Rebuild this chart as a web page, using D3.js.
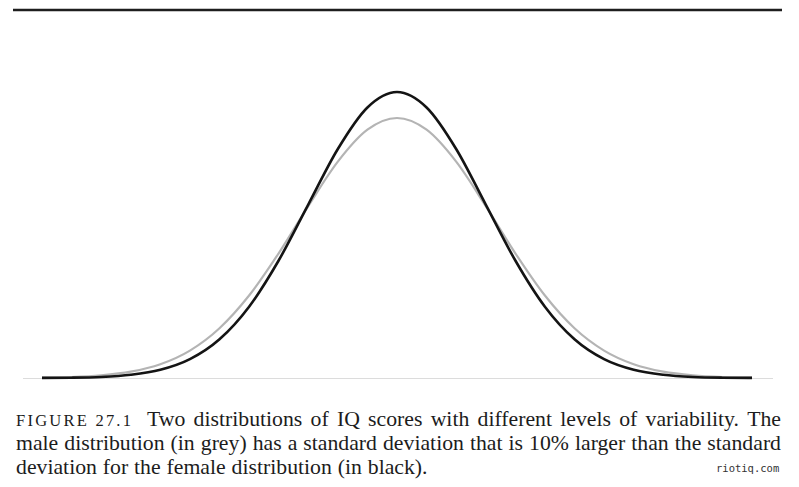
<!DOCTYPE html>
<html>
<head>
<meta charset="utf-8">
<script src="https://cdn.jsdelivr.net/npm/d3@7"></script>
<style>
  body { margin: 0; background: #fff; }
  svg { display: block; }
</style>
</head>
<body>
<div id="chart"></div>
<script>
// IQ score grid and densities (in %)
const iq = [40, 45, 50, 55, 60, 65, 70, 75, 80, 85, 90, 95, 100,
            105, 110, 115, 120, 125, 130, 135, 140, 145, 150, 155, 160];
const female = [0.001, 0.003, 0.010, 0.030, 0.076, 0.175, 0.360, 0.663, 1.093, 1.613, 2.130, 2.516, 2.660,
                2.516, 2.130, 1.613, 1.093, 0.663, 0.360, 0.175, 0.076, 0.030, 0.010, 0.003, 0.001];
const male = [0.003, 0.009, 0.025, 0.059, 0.128, 0.255, 0.463, 0.767, 1.160, 1.599, 2.012, 2.309, 2.418,
              2.309, 2.012, 1.599, 1.160, 0.767, 0.463, 0.255, 0.128, 0.059, 0.025, 0.009, 0.003];

const captionLines = [
  "Two distributions of IQ scores with different levels of variability. The",
  "male distribution (in grey) has a standard deviation that is 10% larger than the standard",
  "deviation for the female distribution (in black)."
];
const figureLabel = "FIGURE 27.1";
const watermark = "riotiq.com";

const W = 799, H = 487;

const svg = d3.select("#chart")
  .append("svg")
  .attr("width", W)
  .attr("height", H);

const x = d3.scaleLinear().domain([40, 160]).range([42, 752]);
const y = d3.scaleLinear().domain([0, 2.66]).range([378, 92]);

// top rule
svg.append("line")
  .attr("x1", 13).attr("x2", 782)
  .attr("y1", 10).attr("y2", 10)
  .attr("stroke", "#1e1e1e")
  .attr("stroke-width", 2.6);

// baseline
svg.append("line")
  .attr("x1", 23).attr("x2", 773)
  .attr("y1", y(0) + 0.5).attr("y2", y(0) + 0.5)
  .attr("stroke", "#dcdcdc")
  .attr("stroke-width", 1);

const line = d3.line()
  .x(d => x(d[0]))
  .y(d => y(d[1]))
  .curve(d3.curveMonotoneX);

// male (grey) first, female (black) on top
svg.append("path")
  .datum(d3.zip(iq, male))
  .attr("fill", "none")
  .attr("stroke", "#b4b4b4")
  .attr("stroke-width", 2.2)
  .attr("d", line);

svg.append("path")
  .datum(d3.zip(iq, female))
  .attr("fill", "none")
  .attr("stroke", "#141414")
  .attr("stroke-width", 2.6)
  .attr("d", line);

// caption
const left = 16, right = 781;
const baselines = [426, 450, 474];
const serif = "'Liberation Serif', 'DejaVu Serif', serif";

// pick a font size so the last (unjustified) line is as long as in the figure
const probe = svg.append("text")
  .attr("font-family", serif)
  .attr("font-size", 20)
  .text(captionLines[2]);
const fs = 20 * 409 / probe.node().getComputedTextLength();
probe.remove();

const cap = svg.append("g")
  .attr("font-family", serif)
  .attr("font-size", fs)
  .attr("fill", "#1c1c1c");

cap.append("text")
  .attr("x", left)
  .attr("y", baselines[0])
  .attr("font-size", fs * 0.76)
  .attr("textLength", 115)
  .attr("lengthAdjust", "spacing")
  .text(figureLabel);

function justify(text, x0, x1, yb, stretch) {
  const words = text.split(" ");
  const nodes = words.map(w => cap.append("text").attr("y", yb).text(w));
  const widths = nodes.map(n => n.node().getComputedTextLength());
  const total = d3.sum(widths);
  const gap = stretch ? (x1 - x0 - total) / (words.length - 1) : fs * 0.27;
  let cx = x0;
  nodes.forEach((n, i) => {
    n.attr("x", cx);
    cx += widths[i] + gap;
  });
}

justify(captionLines[0], 147, right, baselines[0], true);
justify(captionLines[1], left, right, baselines[1], true);
justify(captionLines[2], left, right, baselines[2], false);

svg.append("text")
  .attr("x", 716)
  .attr("y", 472)
  .attr("font-family", "'DejaVu Sans Mono', monospace")
  .attr("font-size", 10.5)
  .attr("fill", "#333")
  .text(watermark);
</script>
</body>
</html>
